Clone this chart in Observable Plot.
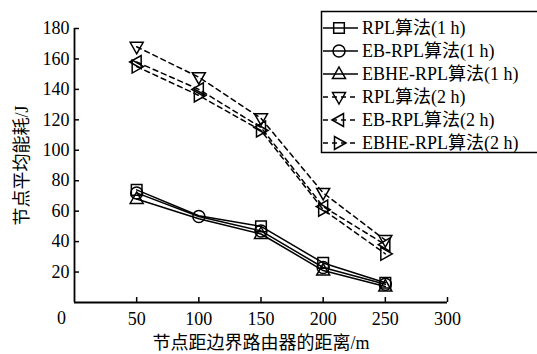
<!DOCTYPE html>
<html><head><meta charset="utf-8">
<script src="https://cdn.jsdelivr.net/npm/d3@7"></script>
<script src="https://cdn.jsdelivr.net/npm/@observablehq/plot@0.6"></script>
<style>
body{margin:0;overflow:hidden;background:#fff}
#wrap{position:relative;width:537px;height:354px;overflow:hidden}
#legend{position:absolute;left:0;top:0}
</style>
</head><body><div id="wrap"></div>
<script>
const distances = [50, 100, 150, 200, 250];
const seriesNames = ["RPL算法(1 h)", "EB-RPL算法(1 h)", "EBHE-RPL算法(1 h)", "RPL算法(2 h)", "EB-RPL算法(2 h)", "EBHE-RPL算法(2 h)"];
const rpl1h = [74, 57, 50, 26, 13];
const eb1h = [72, 56.5, 47, 23, 12];
const ebhe1h = [68, 55, 45, 21, 10.5];
const rpl2h = [168, 148, 121, 72, 41];
const eb2h = [158, 140, 115, 63, 38];
const ebhe2h = [155, 136, 113, 61, 32];
const xTicks = [50, 100, 150, 200, 250, 300];
const yTicks = [20, 40, 60, 80, 100, 120, 140, 160, 180];
const hiddenMarkers = {"RPL算法(1 h)": [100], "EBHE-RPL算法(1 h)": [100]};

const FONT = '"Liberation Serif", "DejaVu Serif", "Noto Sans CJK SC", serif';

function tri(pts) {
  return {draw(ctx, size) {
    const r = Math.sqrt(size / Math.PI) / 6;
    ctx.moveTo(pts[0][0] * r, pts[0][1] * r);
    for (let i = 1; i < pts.length; i++) ctx.lineTo(pts[i][0] * r, pts[i][1] * r);
    ctx.closePath();
  }};
}
const triUp = tri([[0, -7], [6.5, 4.5], [-6.5, 4.5]]);
const triDown = tri([[0, 7], [6.5, -4.5], [-6.5, -4.5]]);
const triLeft = tri([[-7, 0], [4.5, -6.5], [4.5, 6.5]]);
const triRight = tri([[7, 0], [-4.5, -6.5], [-4.5, 6.5]]);

const allValues = [rpl1h, eb1h, ebhe1h, rpl2h, eb2h, ebhe2h];
const symbols = [d3.symbolSquare, d3.symbolCircle, triUp, triDown, triLeft, triRight];
const dashed = [false, false, false, true, true, true];

const data = [];
seriesNames.forEach((s, i) => distances.forEach((d, j) => data.push({series: s, idx: i, x: d, y: allValues[i][j]})));

const marks = [];
seriesNames.forEach((s, i) => {
  const rows = data.filter(d => d.series === s);
  marks.push(Plot.line(rows, {x: "x", y: "y", stroke: "black", strokeWidth: 1.5, strokeDasharray: dashed[i] ? "5,4" : null}));
  const shown = rows.filter(d => !(hiddenMarkers[s] || []).includes(d.x));
  marks.push(Plot.dot(shown, {x: "x", y: "y", symbol: () => symbols[i], r: 6, stroke: "black", strokeWidth: 1.5, fill: "none"}));
});

const chart = Plot.plot({
  width: 537, height: 354,
  marginLeft: 74, marginRight: 90, marginTop: 28, marginBottom: 52,
  style: {fontFamily: FONT, fontSize: "18px", color: "black", background: "white"},
  x: {domain: [0, 300]},
  y: {domain: [0, 180]},
  marks: [
    Plot.axisX({ticks: xTicks, tickSize: -5, tickPadding: 15, tickFormat: d => String(d), label: "节点距边界路由器的距离/m", labelAnchor: "center", labelArrow: "none", labelOffset: 46, strokeWidth: 1.5}),
    Plot.axisY({ticks: yTicks, tickSize: -5, tickPadding: 10, tickFormat: d => String(d), label: "节点平均能耗/J", labelAnchor: "center", labelArrow: "none", labelOffset: 59, strokeWidth: 1.5}),
    Plot.text([0], {x: d => d, y: 0, text: d => String(d), dx: -13, dy: 16, fontSize: 18}),
    Plot.ruleX([0], {strokeWidth: 1.8}),
    Plot.ruleY([0], {strokeWidth: 1.8}),
    ...marks
  ]
});
const wrap = document.getElementById("wrap");
wrap.appendChild(chart);

// Legend
const lg = d3.select(wrap).append("svg").attr("id", "legend").attr("width", 537).attr("height", 354)
  .style("font-family", FONT).style("font-size", "18px");
lg.append("rect").attr("x", 321.5).attr("y", 11.5).attr("width", 220).attr("height", 141)
  .attr("fill", "white").attr("stroke", "black").attr("stroke-width", 1.5);
seriesNames.forEach((s, i) => {
  const cy = 28 + i * 23;
  lg.append("line").attr("x1", 323).attr("x2", 358).attr("y1", cy).attr("y2", cy)
    .attr("stroke", "black").attr("stroke-width", 1.5).attr("stroke-dasharray", dashed[i] ? "5,4" : null);
  lg.append("path").attr("transform", `translate(339,${cy})`)
    .attr("d", d3.symbol(symbols[i], 36 * Math.PI)())
    .attr("fill", "none").attr("stroke", "black").attr("stroke-width", 1.5);
  lg.append("text").attr("x", 362).attr("y", cy).attr("dy", "0.35em").text(s);
});
</script></body></html>
